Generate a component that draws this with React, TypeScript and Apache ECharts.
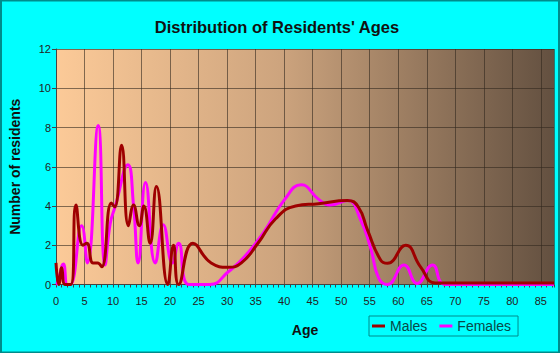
import React, { useEffect, useRef } from "react";
import * as echarts from "echarts";

const title = "Distribution of Residents' Ages";
const xName = "Age";
const yName = "Number of residents";
const seriesNames = ["Males", "Females"];

const maleAges = [0, 0.5, 1.0, 1.6, 2.6, 3.5, 4.7, 5.4, 6.5, 7.3, 8.0, 9.7, 10.3, 11.5, 12.7, 13.6, 14.6, 15.4, 16.5, 17.6, 19.6, 20.6, 21.5, 24.0, 27.2, 30.2, 32.5, 35.4, 38.5, 42, 46, 51.1, 53, 54.6, 56.9, 58.1, 61.3, 63.9, 66.5, 70, 87.3];
const maleValues = [1.1, 0, 0.85, 0, 0, 4.05, 2.0, 2.1, 1.1, 1.1, 0.9, 4.15, 3.95, 7.1, 3.0, 4.05, 3.0, 4.0, 2.1, 5.0, 0, 2.0, 0, 2.1, 1.1, 0.88, 1.1, 2.1, 3.35, 4.0, 4.12, 4.28, 3.95, 2.78, 1.25, 1.08, 2.0, 0.9, 0.08, 0.08, 0.08];

const femaleAges = [0, 0.3, 1.3, 2.0, 2.5, 4.5, 5.5, 7.4, 8.6, 9.5, 10.4, 12.6, 13.6, 14.4, 15.7, 17.4, 18.8, 20.4, 21.5, 23.3, 27, 30.2, 33, 36.5, 40, 43.0, 46, 48, 51.1, 53.4, 55.2, 56.6, 58.1, 61.0, 63.3, 66.0, 68.3, 87.3];
const femaleValues = [0, 0.1, 1.05, 0, 0, 3.0, 1.1, 8.1, 1.0, 3.1, 4.0, 6.1, 4.0, 1.1, 5.2, 1.1, 3.05, 1.1, 2.1, 0, 0, 0.65, 1.4, 2.7, 4.3, 5.08, 4.35, 4.05, 4.28, 3.3, 1.8, 0.3, 0, 1.0, 0.05, 1.0, 0, 0];

const xMin = 0;
const xMax = 87.3;
const xInterval = 5;
const yMin = 0;
const yMax = 12;
const yInterval = 2;

const maleColor = "#9E0000";
const femaleColor = "#FF00FF";

export default function App() {
  const ref = useRef<HTMLDivElement>(null);
  useEffect(() => {
    if (!ref.current) return;
    const chart = echarts.init(ref.current, undefined, { renderer: "svg" });
    const maleData = maleAges.map((a, i) => [a, maleValues[i]]);
    const femaleData = femaleAges.map((a, i) => [a, femaleValues[i]]);
    const font = "'Liberation Sans', Arial, sans-serif";
    chart.setOption({
      animation: false,
      backgroundColor: "#00FFFF",
      title: {
        text: title,
        left: 272,
        top: 13,
        textAlign: "center",
        textStyle: { fontFamily: font, fontSize: 16.5, fontWeight: "bold", color: "#111" },
      },
      graphic: [
        {
          type: "rect",
          shape: { x: 1, y: 0.5, width: 558, height: 352 },
          style: { fill: "none", stroke: "#008B8B", lineWidth: 2 },
          silent: true,
        },
      ],
      grid: {
        left: 54,
        top: 49,
        right: 6,
        bottom: 68.5,
        show: true,
        borderWidth: 0,
        backgroundColor: new echarts.graphic.LinearGradient(0, 0, 1, 0, [
          { offset: 0, color: "#FCCA98" },
          { offset: 0.45, color: "#CDA47E" },
          { offset: 1, color: "#635040" },
        ]),
      },
      legend: {
        data: seriesNames,
        left: 369,
        top: 316,
        orient: "horizontal",
        itemWidth: 13,
        itemHeight: 3,
        itemGap: 12,
        icon: "rect",
        borderColor: "#008B8B",
        borderWidth: 1,
        padding: [3, 7, 3, 3],
        textStyle: { fontFamily: font, fontSize: 14, color: "#0A4848", padding: [0, 0, 0, 0] },
      },
      xAxis: {
        type: "value",
        min: xMin,
        max: xMax,
        interval: xInterval,
        name: xName,
        nameLocation: "middle",
        nameGap: 38,
        nameTextStyle: { fontFamily: font, fontSize: 14, fontWeight: "bold", color: "#111" },
        axisLine: { show: true, lineStyle: { color: "#444", width: 1 } },
        axisTick: { show: true, length: 3, lineStyle: { color: "#444" } },
        minorTick: { show: true, splitNumber: 5, length: 3, lineStyle: { color: "#444" } },
        axisLabel: {
          fontFamily: font,
          fontSize: 11,
          color: "#222",
          margin: 11,
          showMaxLabel: false,
          formatter: (v: number) => (v % 5 === 0 ? String(v) : ""),
        },
        splitLine: { show: true, lineStyle: { color: "rgba(50,40,30,0.6)", width: 1 } },
      },
      yAxis: {
        type: "value",
        min: yMin,
        max: yMax,
        interval: yInterval,
        name: yName,
        nameLocation: "middle",
        nameGap: 34,
        nameTextStyle: { fontFamily: font, fontSize: 14, fontWeight: "bold", color: "#111" },
        axisLine: { show: true, lineStyle: { color: "#444", width: 1 } },
        axisTick: { show: true, length: 4, lineStyle: { color: "#444" } },
        axisLabel: { fontFamily: font, fontSize: 11, color: "#222", margin: 5 },
        splitLine: { show: true, lineStyle: { color: "rgba(50,40,30,0.6)", width: 1 } },
      },
      series: [
        {
          name: "Females",
          type: "line",
          data: femaleData,
          smooth: 0.5,
          showSymbol: false,
          lineStyle: { color: femaleColor, width: 3 },
          itemStyle: { color: femaleColor },
          clip: true,
        },
        {
          name: "Males",
          type: "line",
          data: maleData,
          smooth: 0.5,
          showSymbol: false,
          lineStyle: { color: maleColor, width: 3 },
          itemStyle: { color: maleColor },
          clip: true,
        },
      ],
    });
    return () => chart.dispose();
  }, []);
  return (
    <div
      ref={ref}
      style={{ position: "fixed", left: 0, top: 0, width: 560, height: 353 }}
    />
  );
}
